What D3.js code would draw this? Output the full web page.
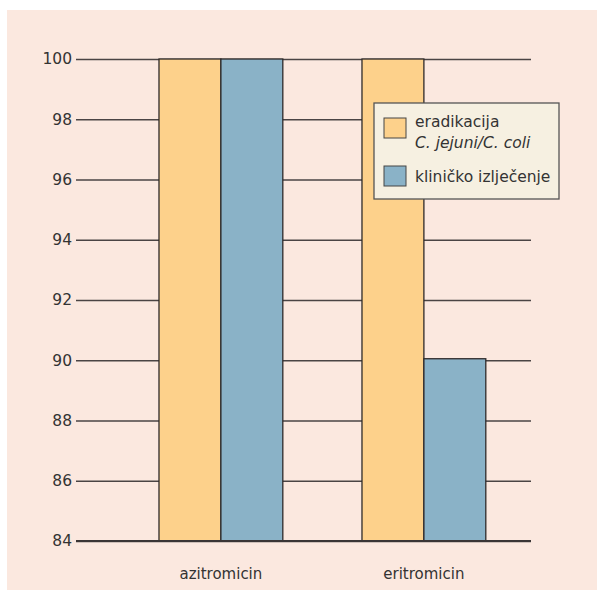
<!DOCTYPE html>
<html>
<head>
<meta charset="utf-8">
<script src="https://cdn.jsdelivr.net/npm/d3@7"></script>
<style>
  body { margin: 0; background: #fff; }
  text { font-family: "DejaVu Sans", sans-serif; fill: #333; }
</style>
</head>
<body>
<svg width="597" height="590"></svg>
<script>
// data
var categories = ["azitromicin", "eritromicin"];
var seriesNames = ["eradikacija", "kliničko izlječenje"];
var eradikacija = [100, 100];
var klinicko = [100, 90.05];
var yTicks = [84, 86, 88, 90, 92, 94, 96, 98, 100];

var colors = ["#fdd18b", "#8ab2c7"];

var svg = d3.select("svg"),
	width = +svg.attr("width"),
	height = +svg.attr("height");

// background panel
svg.append("rect")
	.attr("x", 7).attr("y", 10)
	.attr("width", width - 7).attr("height", height - 10)
	.style("fill", "#fbe8df");

var plotLeft = 76, plotRight = 531, plotTop = 59, plotBottom = 541;

var y = d3.scaleLinear().domain([84, 100]).range([plotBottom, plotTop]);
var x0 = d3.scaleBand().domain(categories).range([57.5, 587.3]).paddingInner(0.39).paddingOuter(0.5);
var x1 = d3.scaleBand().domain([0, 1]).range([0, x0.bandwidth()]);

// gridlines + tick labels
var yAxis = d3.axisLeft(y).tickValues(yTicks).tickSize(-(plotRight - plotLeft)).tickFormat(d3.format("d"));
var ga = svg.append("g")
	.attr("transform", "translate(" + plotLeft + ",0)")
	.call(yAxis);
ga.select(".domain").remove();
ga.selectAll(".tick line")
	.style("stroke", "#4a4444")
	.style("stroke-width", 1.3);
ga.selectAll(".tick text")
	.attr("x", -4)
	.style("font-size", "15.5px")
	.style("font-family", "DejaVu Sans, sans-serif")
	.style("fill", "#333");

// bars
var groups = svg.append("g").selectAll("g")
	.data(categories)
	.enter().append("g")
	.attr("transform", function (d) { return "translate(" + x0(d) + ",0)"; });

groups.selectAll("rect")
	.data(function (d, i) { return [eradikacija[i], klinicko[i]]; })
	.enter().append("rect")
	.attr("x", function (d, j) { return x1(j); })
	.attr("y", function (d) { return y(d); })
	.attr("width", x1.bandwidth())
	.attr("height", function (d) { return plotBottom - y(d); })
	.style("fill", function (d, j) { return colors[j]; })
	.style("stroke", "#2e2a2a")
	.style("stroke-width", 1.3);

// baseline on top
svg.append("line")
	.attr("x1", plotLeft).attr("x2", plotRight)
	.attr("y1", plotBottom).attr("y2", plotBottom)
	.style("stroke", "#3a3535").style("stroke-width", 2);

// category labels
svg.append("g").selectAll("text")
	.data(categories)
	.enter().append("text")
	.attr("x", function (d) { return x0(d) + x0.bandwidth() / 2; })
	.attr("y", 579)
	.attr("text-anchor", "middle")
	.style("font-size", "15px")
	.text(function (d) { return d; });

// legend
var lg = svg.append("g").attr("transform", "translate(374,103)");
lg.append("rect")
	.attr("width", 185).attr("height", 96)
	.style("fill", "#f6f0e1")
	.style("stroke", "#555").style("stroke-width", 1.3);
lg.append("rect")
	.attr("x", 10).attr("y", 15).attr("width", 22).attr("height", 20)
	.style("fill", colors[0]).style("stroke", "#444").style("stroke-width", 1);
lg.append("rect")
	.attr("x", 10).attr("y", 63).attr("width", 22).attr("height", 20)
	.style("fill", colors[1]).style("stroke", "#444").style("stroke-width", 1);
lg.append("text").attr("x", 41).attr("y", 24).style("font-size", "15.5px").text(seriesNames[0]);
lg.append("text").attr("x", 41).attr("y", 45).style("font-size", "15.5px").style("font-style", "italic")
	.text("C. jejuni/C. coli");
lg.append("text").attr("x", 41).attr("y", 79).style("font-size", "15.5px").text(seriesNames[1]);
</script>
</body>
</html>
